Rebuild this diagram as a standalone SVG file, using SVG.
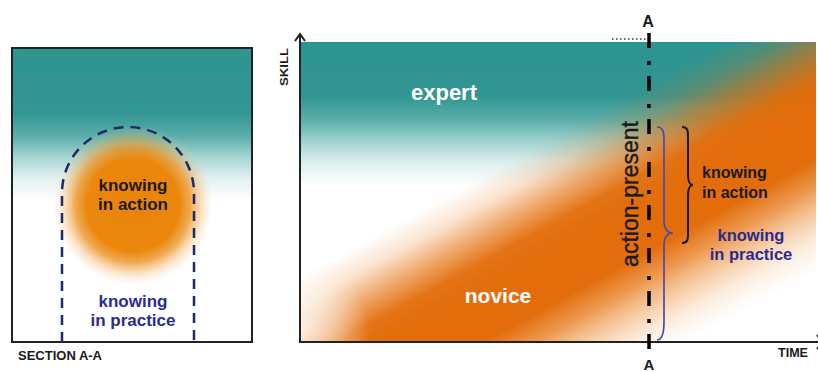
<svg xmlns="http://www.w3.org/2000/svg" width="818" height="372" viewBox="0 0 818 372">
  <style>
    .t { font-family: "Liberation Sans", Arial, sans-serif; font-weight: bold; }
    .blk { fill: #1a1a1a; }
    .blu { fill: #2b2b8f; }
    .wht { fill: #ffffff; }
    .axis { stroke: #222; stroke-width: 2; fill: none; }
  </style>
  <defs>
    <linearGradient id="leftTeal" x1="0" y1="48" x2="0" y2="342" gradientUnits="userSpaceOnUse">
      <stop offset="0" stop-color="#2e9490"/>
      <stop offset="0.22" stop-color="#329692"/>
      <stop offset="0.30" stop-color="#5aaeaa"/>
      <stop offset="0.37" stop-color="#a4d4d1"/>
      <stop offset="0.44" stop-color="#e0f0ef"/>
      <stop offset="0.52" stop-color="#ffffff"/>
      <stop offset="1" stop-color="#ffffff"/>
    </linearGradient>
    <radialGradient id="blob" cx="133" cy="205" r="80" gradientUnits="userSpaceOnUse">
      <stop offset="0" stop-color="#e9840a"/>
      <stop offset="0.58" stop-color="#ea870c"/>
      <stop offset="0.72" stop-color="#ed9426" stop-opacity="0.8"/>
      <stop offset="0.86" stop-color="#f2ad58" stop-opacity="0.35"/>
      <stop offset="1" stop-color="#f8d0a0" stop-opacity="0"/>
    </radialGradient>
    <linearGradient id="rightTeal" x1="0" y1="42" x2="0" y2="342" gradientUnits="userSpaceOnUse">
      <stop offset="0" stop-color="#2c9390"/>
      <stop offset="0.18" stop-color="#329692"/>
      <stop offset="0.26" stop-color="#5aaeaa"/>
      <stop offset="0.33" stop-color="#9fd2cf"/>
      <stop offset="0.40" stop-color="#dcefee"/>
      <stop offset="0.48" stop-color="#ffffff"/>
      <stop offset="1" stop-color="#ffffff"/>
    </linearGradient>
    <linearGradient id="band" x1="553.6" y1="34.8" x2="746.4" y2="385.2" gradientUnits="userSpaceOnUse">
      <stop offset="0.225" stop-color="#e6720e" stop-opacity="0"/>
      <stop offset="0.2875" stop-color="#e6720e" stop-opacity="0.2"/>
      <stop offset="0.35" stop-color="#e4700c" stop-opacity="0.6"/>
      <stop offset="0.4125" stop-color="#e26d0a" stop-opacity="0.95"/>
      <stop offset="0.4625" stop-color="#e26d0a" stop-opacity="1"/>
      <stop offset="0.5875" stop-color="#e26d0a" stop-opacity="1"/>
      <stop offset="0.65" stop-color="#e87e22" stop-opacity="0.8"/>
      <stop offset="0.7125" stop-color="#ee9848" stop-opacity="0.5"/>
      <stop offset="0.775" stop-color="#f2b070" stop-opacity="0.2"/>
      <stop offset="0.8375" stop-color="#f6c898" stop-opacity="0"/>
    </linearGradient>
    <radialGradient id="cornerFade" cx="300" cy="330" r="70" gradientUnits="userSpaceOnUse">
      <stop offset="0" stop-color="#ffffff" stop-opacity="0.8"/>
      <stop offset="0.5" stop-color="#ffffff" stop-opacity="0.45"/>
      <stop offset="1" stop-color="#ffffff" stop-opacity="0"/>
    </radialGradient>
  </defs>

  <!-- Left panel: Section A-A -->
  <g id="section-panel">
    <rect x="12" y="48" width="240" height="294" fill="url(#leftTeal)"/>
    <rect x="12" y="48" width="240" height="294" fill="url(#blob)"/>
    <rect x="12" y="48" width="240" height="294" fill="none" stroke="#222" stroke-width="2"/>
    <path d="M62,342 L62,193 A66,66 0 0 1 194,193 L194,342" fill="none" stroke="#1e2b6b" stroke-width="2.5" stroke-dasharray="10 7"/>
  </g>
  <g id="left-knowing-in-action">
    <text class="t blk" x="133" y="191" font-size="17" text-anchor="middle">knowing</text>
    <text class="t blk" x="133" y="210" font-size="17" text-anchor="middle">in action</text>
  </g>
  <g id="left-knowing-in-practice">
    <text class="t blu" x="133" y="307" font-size="17" text-anchor="middle">knowing</text>
    <text class="t blu" x="133" y="326" font-size="17" text-anchor="middle">in practice</text>
  </g>
  <g id="section-label">
    <text class="t blk" x="18" y="360" font-size="13.5" textLength="84" lengthAdjust="spacingAndGlyphs">SECTION A-A</text>
  </g>

  <!-- Right panel: skill/time chart -->
  <g id="chart-field">
    <rect x="300" y="42" width="516" height="300" fill="url(#rightTeal)"/>
    <rect x="300" y="42" width="516" height="300" fill="url(#band)"/>
    <rect x="300" y="260" width="80" height="82" fill="url(#cornerFade)"/>
  </g>
  <g id="expert">
    <text class="t wht" x="444" y="100" font-size="22" text-anchor="middle">expert</text>
  </g>
  <g id="novice">
    <text class="t wht" x="498" y="303" font-size="21" text-anchor="middle">novice</text>
  </g>
  <g id="action-present">
    <text transform="translate(638,194) rotate(-90)" x="0" y="0" font-family="Liberation Sans, Arial, sans-serif" font-size="23" fill="#1a1a1a" stroke="#1a1a1a" stroke-width="0.4" text-anchor="middle">action-present</text>
  </g>
  <g id="brace-knowing-in-action">
    <text class="t blk" x="702" y="178" font-size="16">knowing</text>
    <text class="t blk" x="702" y="198" font-size="16">in action</text>
  </g>
  <g id="brace-knowing-in-practice">
    <text class="t blu" x="751" y="241" font-size="16.5" text-anchor="middle">knowing</text>
    <text class="t blu" x="751" y="260" font-size="16.5" text-anchor="middle">in practice</text>
  </g>
  <g id="axis-labels">
    <text class="t blk" transform="translate(288,67) rotate(-90)" font-size="11" text-anchor="middle" textLength="38" lengthAdjust="spacingAndGlyphs">SKILL</text>
    <text class="t blk" x="778" y="357" font-size="12.5" textLength="30" lengthAdjust="spacingAndGlyphs">TIME</text>
    <text class="t blk" x="648" y="27" font-size="16" text-anchor="middle">A</text>
    <text class="t blk" x="649" y="370" font-size="15" text-anchor="middle">A</text>
  </g>

  <g id="connectors">
    <line class="axis" x1="300" y1="343" x2="300" y2="34"/>
    <polyline class="axis" points="295,41 300,34 305,41"/>
    <line class="axis" x1="300" y1="342" x2="818" y2="342"/>
    <polyline class="axis" points="817,335 823,342 817,349"/>
    <line x1="612" y1="39" x2="646" y2="39" stroke="#333" stroke-width="1.5" stroke-dasharray="1.5 2.5"/>
    <line x1="649" y1="33" x2="649" y2="352" stroke="#000" stroke-width="3.5" stroke-dasharray="15 13 4 11"/>
    <path d="M682,127 C688,127 688,131 688,137 L688,175 C688,181 690,185 693,185 C690,185 688,189 688,195 L688,233 C688,239 688,243 682,243" fill="none" stroke="#1a1a1a" stroke-width="2"/>
    <path d="M657,127 C663,127 664,132 664,140 L664,220 C664,228 667,233 673,233 C667,233 664,238 664,246 L664,322 C664,334 662,340 657,340" fill="none" stroke="#4a4aa8" stroke-width="1.7"/>
  </g>
</svg>
